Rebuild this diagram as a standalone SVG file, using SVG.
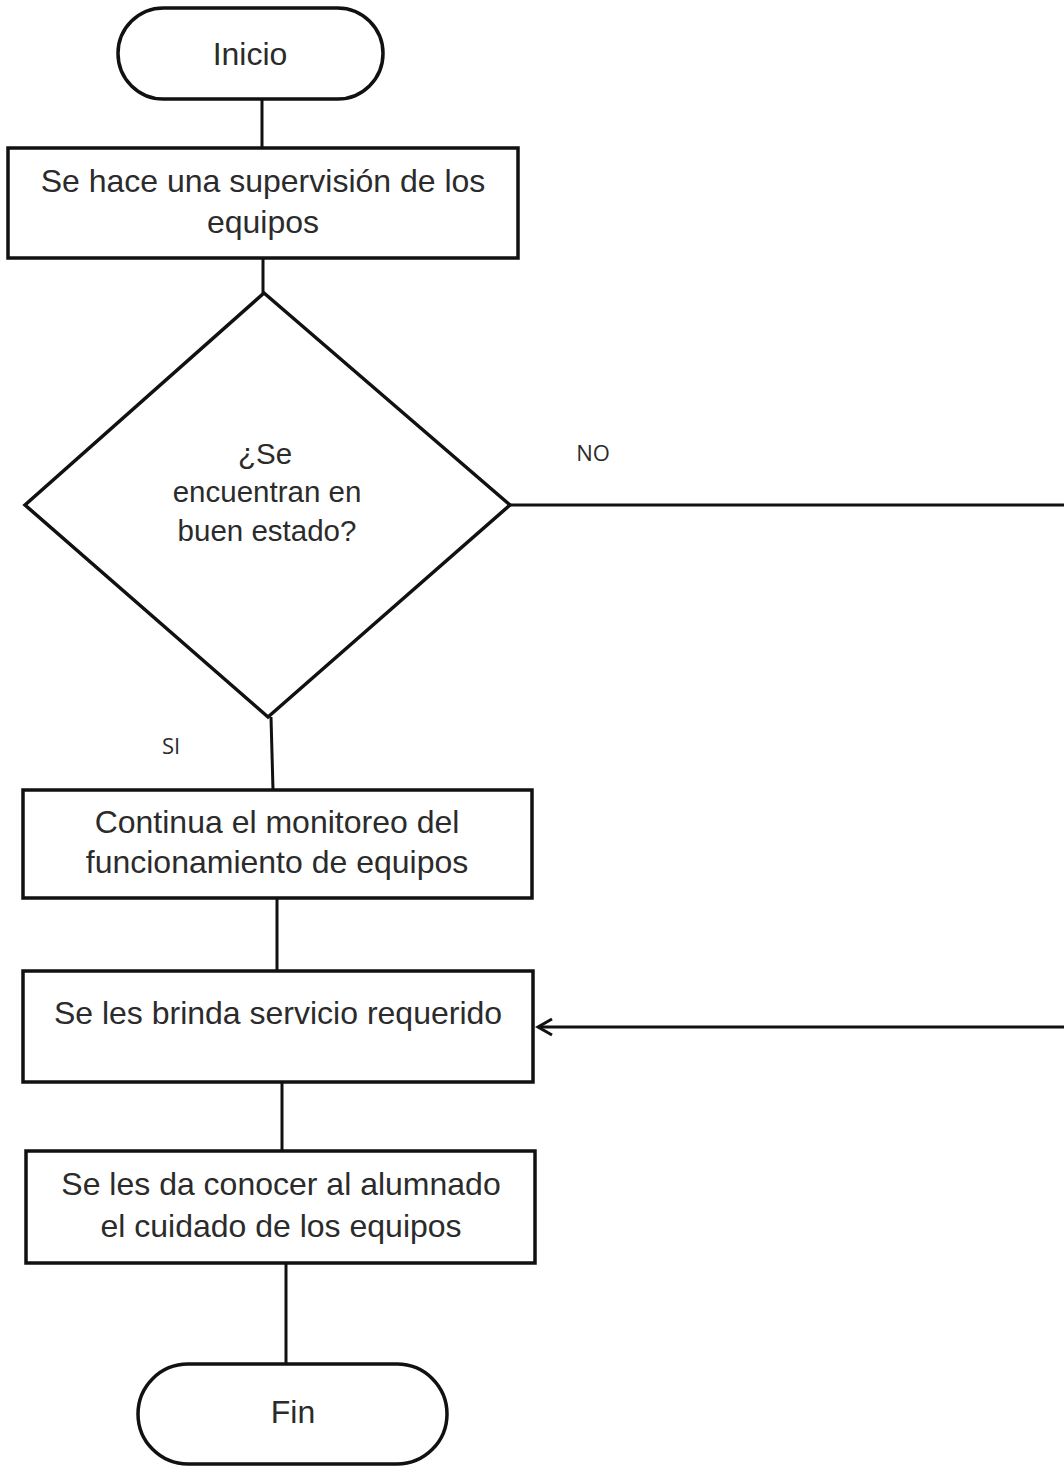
<svg xmlns="http://www.w3.org/2000/svg" width="1064" height="1466" viewBox="0 0 1064 1466">
  <defs>
    <style>
      .shape { fill: #ffffff; stroke: #111111; stroke-width: 3.5; }
      .wire { fill: none; stroke: #111111; stroke-width: 3; }
      .lbl { font-family: "Liberation Sans", Arial, sans-serif; font-size: 32px; fill: #2b2b2b; text-anchor: middle; }
      .dlbl { font-family: "Liberation Sans", Arial, sans-serif; font-size: 29.5px; fill: #2b2b2b; text-anchor: middle; }
      .branch { font-family: "Open Sans", "Liberation Sans", sans-serif; font-size: 22px; fill: #2b2b2b; text-anchor: middle; }
    </style>
    <marker id="openArrow" viewBox="0 0 20 20" refX="17" refY="10" markerWidth="20" markerHeight="20" markerUnits="userSpaceOnUse" orient="auto">
      <path d="M3 2 L17 10 L3 18" fill="none" stroke="#111111" stroke-width="3"/>
    </marker>
  </defs>

  <rect width="1064" height="1466" fill="#ffffff"/>

  <g id="inicio">
    <rect class="shape" x="118" y="8" width="265" height="91" rx="45.5" ry="45.5"/>
    <text class="lbl" x="250" y="65">Inicio</text>
  </g>

  <g id="supervision">
    <rect class="shape" x="8" y="148" width="510" height="110"/>
    <text class="lbl" x="263" y="192">Se hace una supervisión de los</text>
    <text class="lbl" x="263" y="233">equipos</text>
  </g>

  <g id="decision">
    <polygon class="shape" points="264,293 510,505 268,717 25,505"/>
    <text class="dlbl" x="265" y="464">¿Se</text>
    <text class="dlbl" x="267" y="502">encuentran en</text>
    <text class="dlbl" x="267" y="541">buen estado?</text>
  </g>

  <g id="monitoreo">
    <rect class="shape" x="23" y="790" width="509" height="108"/>
    <text class="lbl" x="277" y="833">Continua el monitoreo del</text>
    <text class="lbl" x="277" y="873">funcionamiento de equipos</text>
  </g>

  <g id="servicio">
    <rect class="shape" x="23" y="971" width="510" height="111"/>
    <text class="lbl" x="278" y="1024">Se les brinda servicio requerido</text>
  </g>

  <g id="alumnado">
    <rect class="shape" x="26" y="1151" width="509" height="112"/>
    <text class="lbl" x="281" y="1195">Se les da conocer al alumnado</text>
    <text class="lbl" x="281" y="1237">el cuidado de los equipos</text>
  </g>

  <g id="fin">
    <rect class="shape" x="138" y="1364" width="309" height="100" rx="50" ry="50"/>
    <text class="lbl" x="293" y="1423">Fin</text>
  </g>

  <!-- connectors, drawn above the nodes so the arrowhead stays visible -->
  <g id="connectors">
    <line class="wire" x1="262" y1="99" x2="262" y2="148"/>
    <line class="wire" x1="263" y1="258" x2="263" y2="293"/>
    <line class="wire" x1="271" y1="717" x2="273" y2="790"/>
    <line class="wire" x1="277" y1="898" x2="277" y2="971"/>
    <line class="wire" x1="282" y1="1082" x2="282" y2="1151"/>
    <line class="wire" x1="286" y1="1263" x2="286" y2="1364"/>
    <!-- NO branch: leaves the decision to the right and returns to the service step -->
    <path class="wire" d="M510 505 H1090 V1027 H538" marker-end="url(#openArrow)"/>
    <text class="branch" x="593" y="461">NO</text>
    <text class="branch" x="171" y="754">SI</text>
  </g>
</svg>
